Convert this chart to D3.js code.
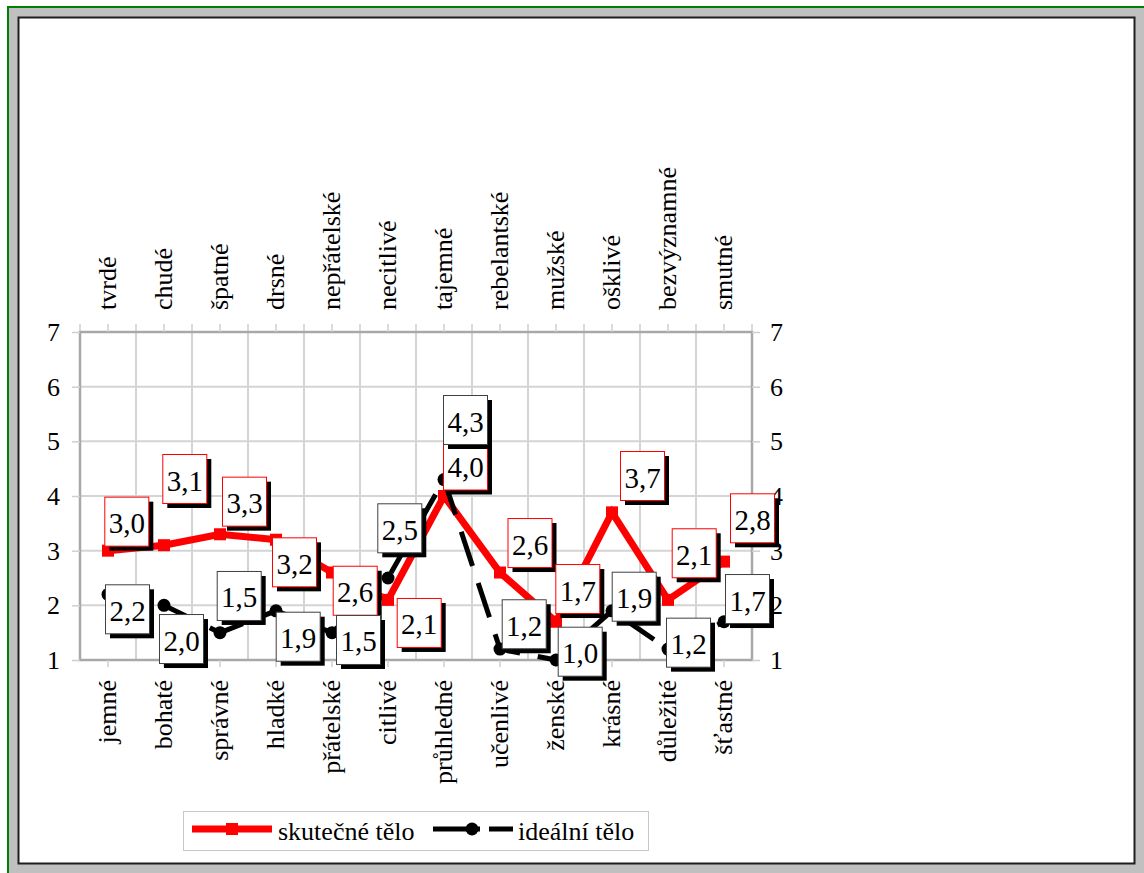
<!DOCTYPE html>
<html>
<head>
<meta charset="utf-8">
<script src="https://cdn.jsdelivr.net/npm/d3@7"></script>
<style>
  html, body { margin: 0; padding: 0; background: #ffffff; }
  svg { display: block; }
  text { font-family: "Liberation Serif", "Times New Roman", "DejaVu Serif", serif; fill: #000; }
</style>
</head>
<body>
<svg id="chart" width="1144" height="873" font-family="Liberation Serif, Times New Roman, serif"></svg>
<script>
// ---- data ----
const bottomCats = ["jemné","bohaté","správné","hladké","přátelské","citlivé","průhledné","učenlivé","ženské","krásné","důležité","šťastné"];
const topCats = ["tvrdé","chudé","špatné","drsné","nepřátelské","necitlivé","tajemné","rebelantské","mužské","ošklivé","bezvýznamné","smutné"];
const realBody = [3.0,3.1,3.3,3.2,2.6,2.1,4.0,2.6,1.7,3.7,2.1,2.8];
const idealBody = [2.2,2.0,1.5,1.9,1.5,2.5,4.3,1.2,1.0,1.9,1.2,1.7];
const yTicks = [1,2,3,4,5,6,7];
const seriesNames = ["skutečné tělo","ideální tělo"];

// ---- layout (label box offsets from their points, px) ----
const redLabelOffsets = [[-3.7,-54],[-1.7,-91.2],[2,-57.6],[-4,-2.4],[0.7,-6.8],[8.7,-1.9],[-1,-55.5],[7.5,-54.5],[-0.7,-57.7],[8,-61.4],[3.7,-71.6],[6,-68.3]];
const blackLabelOffsets = [[-3,-10.1],[-5,8.7],[-3.3,-61.7],[-0.3,0.9],[4,-17.7],[-10.7,-74.7],[-1,-84.6],[1.7,-49.8],[1.7,-33.3],[-0.3,-39.1],[-2,-31.4],[1,-47.7]];

const svg = d3.select("#chart");
const W = 1144, H = 873;
const FONT = "'Liberation Serif', 'Times New Roman', serif";

// ---- frame ----
svg.append("rect").attr("x", 8).attr("y", 7).attr("width", W - 8).attr("height", H - 7).attr("fill", "#c0c0c0");
svg.append("line").attr("x1", 8).attr("x2", 8).attr("y1", 6).attr("y2", H).attr("stroke", "#008000").attr("stroke-width", 2);
svg.append("line").attr("x1", 7).attr("x2", W).attr("y1", 7).attr("y2", 7).attr("stroke", "#008000").attr("stroke-width", 2);
svg.append("rect").attr("x", 18.5).attr("y", 17.5).attr("width", 1116).attr("height", 846)
  .attr("fill", "#ffffff").attr("stroke", "#1e1e1e").attr("stroke-width", 2);

// ---- scales ----
const plot = { left: 80, right: 752, top: 332, bottom: 660 };
const xB = d3.scaleBand().domain(d3.range(bottomCats.length)).range([plot.left, plot.right]).padding(0);
const cx = i => xB(i) + xB.bandwidth() / 2;
const y = d3.scaleLinear().domain([1, 7]).range([plot.bottom, plot.top]);

const g = svg.append("g");

// gridlines
g.append("g").selectAll("line").data(yTicks).join("line")
  .attr("x1", plot.left).attr("x2", plot.right)
  .attr("y1", d => y(d)).attr("y2", d => y(d))
  .attr("stroke", "#d4d4d4").attr("stroke-width", 2);
g.append("g").selectAll("line").data(d3.range(1, bottomCats.length)).join("line")
  .attr("x1", d => xB(d)).attr("x2", d => xB(d))
  .attr("y1", plot.top).attr("y2", plot.bottom)
  .attr("stroke", "#d4d4d4").attr("stroke-width", 2);

// top boundary ticks (secondary category axis)
g.append("g").selectAll("line").data(d3.range(0, bottomCats.length + 1)).join("line")
  .attr("x1", d => d < bottomCats.length ? xB(d) : plot.right)
  .attr("x2", d => d < bottomCats.length ? xB(d) : plot.right)
  .attr("y1", plot.top - 8).attr("y2", plot.top)
  .attr("stroke", "#cfcfcf").attr("stroke-width", 1.5);

// plot border
g.append("rect").attr("x", plot.left).attr("y", plot.top)
  .attr("width", plot.right - plot.left).attr("height", plot.bottom - plot.top)
  .attr("fill", "none").attr("stroke", "#a8a8a8").attr("stroke-width", 2.5);

function styleAxis(sel) {
  sel.attr("font-family", FONT).attr("font-size", 26);
  sel.select(".domain").remove();
  sel.selectAll(".tick line").attr("stroke", "#cfcfcf").attr("stroke-width", 1.5);
  sel.selectAll(".tick text").style("font-size", "26px").style("font-family", FONT).attr("fill", "#000");
}

// left axis
const leftAx = g.append("g").attr("transform", `translate(${plot.left},0)`)
  .call(d3.axisLeft(y).tickValues(yTicks).tickFormat(d3.format("d")).tickSize(8).tickPadding(12));
styleAxis(leftAx);
leftAx.selectAll(".tick text").attr("dy", null).attr("dominant-baseline", "central");

// right axis
const rightAx = g.append("g").attr("transform", `translate(${plot.right},0)`)
  .call(d3.axisRight(y).tickValues(yTicks).tickFormat(d3.format("d")).tickSize(8).tickPadding(10));
styleAxis(rightAx);
rightAx.selectAll(".tick text").attr("dy", null).attr("dominant-baseline", "central");

// bottom category axis
const bottomAx = g.append("g").attr("transform", `translate(0,${plot.bottom})`)
  .call(d3.axisBottom(xB).tickFormat(i => bottomCats[i]).tickSize(7).tickPadding(0));
styleAxis(bottomAx);
bottomAx.selectAll(".tick text")
  .attr("transform", "rotate(-90)").attr("text-anchor", "end")
  .attr("x", -20).attr("y", 8).attr("dy", null);

// top category axis
const topAx = g.append("g").attr("transform", `translate(0,${plot.top})`)
  .call(d3.axisTop(xB).tickFormat(i => topCats[i]).tickSize(8).tickPadding(0));
styleAxis(topAx);
topAx.selectAll(".tick text")
  .attr("transform", "rotate(-90)").attr("text-anchor", "start")
  .attr("x", 22).attr("y", 8).attr("dy", null);

// ---- series ----
const line = d3.line().x((d, i) => cx(i)).y(d => y(d));

g.append("path").datum(realBody).attr("d", line)
  .attr("fill", "none").attr("stroke", "#ff0000").attr("stroke-width", 7).attr("stroke-linejoin", "miter");
g.append("g").selectAll("rect").data(realBody).join("rect")
  .attr("x", (d, i) => cx(i) - 6).attr("y", d => y(d) - 6)
  .attr("width", 12).attr("height", 12).attr("fill", "#ff0000");

g.append("path").datum(idealBody).attr("d", line)
  .attr("fill", "none").attr("stroke", "#000").attr("stroke-width", 5)
  .attr("stroke-dasharray", "36,18");
g.append("g").selectAll("circle").data(idealBody).join("circle")
  .attr("cx", (d, i) => cx(i)).attr("cy", d => y(d)).attr("r", 6.5).attr("fill", "#000");

// ---- data labels ----
const fmt = v => d3.format(".1f")(v).replace(".", ",");
const BW = 44, BH = 49;
function labels(values, offsets, border) {
  const lg = g.append("g").selectAll("g").data(values).join("g")
    .attr("transform", (d, i) => `translate(${cx(i) + offsets[i][0]},${y(d) + offsets[i][1]})`);
  lg.append("rect").attr("x", 5).attr("y", 5).attr("width", BW).attr("height", BH).attr("fill", "#000");
  lg.append("rect").attr("x", 0.5).attr("y", 0.5).attr("width", BW).attr("height", BH)
    .attr("fill", "#fff").attr("stroke", border).attr("stroke-width", 1);
  lg.append("text").attr("x", BW / 2 + 0.5).attr("y", BH / 2 + 2)
    .attr("text-anchor", "middle").attr("dominant-baseline", "central")
    .style("font-family", FONT).style("font-size", "29px").text(d => fmt(d));
}
labels(realBody, redLabelOffsets, "#ff0000");
labels(idealBody, blackLabelOffsets, "#404040");

// ---- legend ----
const lgd = svg.append("g");
lgd.append("rect").attr("x", 183.5).attr("y", 811.5).attr("width", 465).attr("height", 39)
  .attr("fill", "#fff").attr("stroke", "#c8c8c8").attr("stroke-width", 1);
lgd.append("line").attr("x1", 192).attr("x2", 272).attr("y1", 829).attr("y2", 829)
  .attr("stroke", "#ff0000").attr("stroke-width", 7);
lgd.append("rect").attr("x", 226).attr("y", 823).attr("width", 12).attr("height", 12).attr("fill", "#ff0000");
lgd.append("text").attr("x", 278).attr("y", 840).style("font-family", FONT).style("font-size", "26px").text(seriesNames[0]);
lgd.append("line").attr("x1", 433).attr("x2", 513).attr("y1", 829).attr("y2", 829)
  .attr("stroke", "#000").attr("stroke-width", 5).attr("stroke-dasharray", "47,9,24,0");
lgd.append("circle").attr("cx", 472).attr("cy", 829).attr("r", 6.5).attr("fill", "#000");
lgd.append("text").attr("x", 518).attr("y", 840).style("font-family", FONT).style("font-size", "26px").text(seriesNames[1]);
</script>
</body>
</html>
